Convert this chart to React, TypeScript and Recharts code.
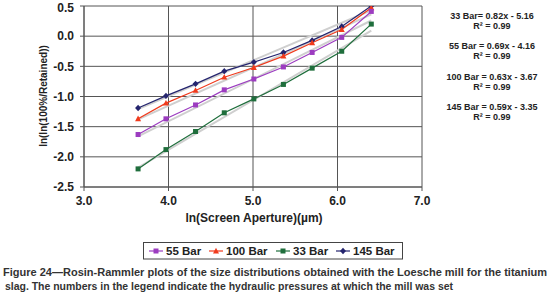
import React from 'react';
import { LineChart, Line, XAxis, YAxis, CartesianGrid } from 'recharts';

// ln of screen aperture (µm)
const apertureLn = [3.64, 3.97, 4.32, 4.66, 5.01, 5.36, 5.7, 6.05, 6.4];
// ln(ln(100%/Retained)) per hydraulic pressure
const bar55 = [-1.63, -1.37, -1.14, -0.89, -0.71, -0.51, -0.27, -0.02, 0.41];
const bar100 = [-1.37, -1.11, -0.9, -0.68, -0.52, -0.33, -0.11, 0.11, 0.47];
const bar33 = [-2.2, -1.88, -1.58, -1.27, -1.04, -0.8, -0.53, -0.25, 0.2];
const bar145 = [-1.19, -0.99, -0.79, -0.58, -0.43, -0.27, -0.07, 0.16, 0.5];
// trendline end points
const trendX = [3.64, 6.4];
const trend33 = [-2.18, 0.09];
const trend55 = [-1.66, 0.26];
const trend100 = [-1.38, 0.36];
const trend145 = [-1.21, 0.43];

const xTicks = [3, 4, 5, 6, 7];
const yTicks = [-2.5, -2, -1.5, -1, -0.5, 0, 0.5];

const equations = [
  { eq: '33 Bar= 0.82x - 5.16', r2: 'R² = 0.99' },
  { eq: '55 Bar = 0.69x - 4.16', r2: 'R² = 0.99' },
  { eq: '100 Bar = 0.63x - 3.67', r2: 'R² = 0.99' },
  { eq: '145 Bar = 0.59x - 3.35', r2: 'R² = 0.99' },
];

const captionLines = [
  'Figure 24\u2014Rosin-Rammler plots of the size distributions obtained with the Loesche mill for the titanium',
  'slag. The numbers in the legend indicate the hydraulic pressures at which the mill was set',
];

const legendItems = [
  { name: '55 Bar', color: '#9c3cc0', shape: 'square' },
  { name: '100 Bar', color: '#f03a1c', shape: 'triangle' },
  { name: '33 Bar', color: '#1f6e3c', shape: 'square' },
  { name: '145 Bar', color: '#24246e', shape: 'diamond' },
];

const toPoints = (xs: number[], ys: number[]) => xs.map((x, i) => ({ x, y: ys[i] }));

const Marker = ({ cx, cy, shape, color }: any) => {
  if (cx == null || cy == null) return null;
  if (shape === 'square') {
    return <rect x={cx - 2.5} y={cy - 2.5} width={5} height={5} fill={color} />;
  }
  if (shape === 'triangle') {
    return <polygon points={`${cx},${cy - 3.2} ${cx + 3},${cy + 2.4} ${cx - 3},${cy + 2.4}`} fill={color} />;
  }
  return <polygon points={`${cx},${cy - 3.2} ${cx + 3},${cy} ${cx},${cy + 3.2} ${cx - 3},${cy}`} fill={color} />;
};

const makeDot = (shape: string, color: string) => (props: any) => (
  <Marker key={`d-${shape}-${color}-${props.index}`} cx={props.cx} cy={props.cy} shape={shape} color={color} />
);

const tickStyle = { fontFamily: 'Liberation Sans, Arial, sans-serif', fontWeight: 'bold', fontSize: 12, fill: '#222' } as any;

export default function App() {
  const series = [
    { data: bar145, ...legendItems[3] },
    { data: bar100, ...legendItems[1] },
    { data: bar55, ...legendItems[0] },
    { data: bar33, ...legendItems[2] },
  ];
  const trends = [trend33, trend55, trend100, trend145];
  const legendPos = [
    { lx: 149, tx: 166 },
    { lx: 209, tx: 226 },
    { lx: 276, tx: 293 },
    { lx: 336, tx: 353 },
  ];
  return (
    <div style={{ position: 'absolute', left: 0, top: 0, width: 553, height: 303, background: '#fff' }}>
      <div style={{ position: 'absolute', left: 0, top: 0 }}>
        <LineChart width={553} height={230} margin={{ top: 6, right: 131, bottom: 13, left: 24 }}>
          <CartesianGrid stroke="#555" strokeWidth={1} />
          <XAxis
            type="number"
            dataKey="x"
            domain={[3, 7]}
            ticks={xTicks}
            allowDataOverflow
            height={30}
            tickSize={4}
            tickMargin={5}
            stroke="#555"
            tick={tickStyle}
            tickFormatter={(v: number) => v.toFixed(1)}
          />
          <YAxis
            type="number"
            dataKey="y"
            domain={[-2.5, 0.5]}
            ticks={yTicks}
            allowDataOverflow
            width={60}
            tickSize={4}
            tickMargin={6}
            stroke="#555"
            tick={tickStyle}
            tickFormatter={(v: number) => v.toFixed(1)}
          />
          {trends.map((t, i) => (
            <Line
              key={`t${i}`}
              data={toPoints(trendX, t)}
              dataKey="y"
              stroke="#cfcfcf"
              strokeWidth={2}
              dot={false}
              isAnimationActive={false}
            />
          ))}
          {series.map((s) => (
            <Line
              key={s.name}
              data={toPoints(apertureLn, s.data)}
              dataKey="y"
              name={s.name}
              stroke={s.color}
              strokeWidth={1.2}
              dot={makeDot(s.shape, s.color)}
              isAnimationActive={false}
            />
          ))}
        </LineChart>
      </div>
      <svg width={553} height={303} style={{ position: 'absolute', left: 0, top: 0 }}>
        <text
          x={43}
          y={96}
          transform="rotate(-90 43 96)"
          textAnchor="middle"
          dominantBaseline="central"
          fontFamily="Liberation Sans, Arial, sans-serif"
          fontWeight="bold"
          fontSize={10}
          fill="#222"
        >
          ln(ln(100%/Retained))
        </text>
        <text
          x={254}
          y={222}
          textAnchor="middle"
          fontFamily="Liberation Sans, Arial, sans-serif"
          fontWeight="bold"
          fontSize={12}
          fill="#222"
        >
          ln(Screen Aperture)(µm)
        </text>
        {equations.map((e, i) => (
          <g key={e.eq} fontFamily="Liberation Sans, Arial, sans-serif" fontWeight="bold" fontSize={9} fill="#222">
            <text x={492} y={19 + i * 30.4} textAnchor="middle">{e.eq}</text>
            <text x={492} y={29 + i * 30.4} textAnchor="middle">{e.r2}</text>
          </g>
        ))}
        <rect x={143.5} y={242.5} width={259} height={16.5} fill="#fff" stroke="#444" strokeWidth={1} />
        {legendItems.map((it, i) => (
          <g key={it.name}>
            <line x1={legendPos[i].lx} x2={legendPos[i].lx + 14} y1={251} y2={251} stroke={it.color} strokeWidth={1.2} />
            <Marker cx={legendPos[i].lx + 7} cy={251} shape={it.shape} color={it.color} />
            <text
              x={legendPos[i].tx}
              y={255.2}
              fontFamily="Liberation Sans, Arial, sans-serif"
              fontWeight="bold"
              fontSize={11.5}
              fill="#222"
            >
              {it.name}
            </text>
          </g>
        ))}
        <text
          x={3}
          y={275.5}
          textLength={544}
          lengthAdjust="spacingAndGlyphs"
          fontFamily="Liberation Sans Narrow, Liberation Sans, Arial, sans-serif"
          fontWeight="bold"
          fontSize={10.5}
          fill="#333"
        >
          {captionLines[0]}
        </text>
        <text
          x={5}
          y={289.5}
          textLength={448}
          lengthAdjust="spacingAndGlyphs"
          fontFamily="Liberation Sans Narrow, Liberation Sans, Arial, sans-serif"
          fontWeight="bold"
          fontSize={10.5}
          fill="#333"
        >
          {captionLines[1]}
        </text>
      </svg>
    </div>
  );
}
